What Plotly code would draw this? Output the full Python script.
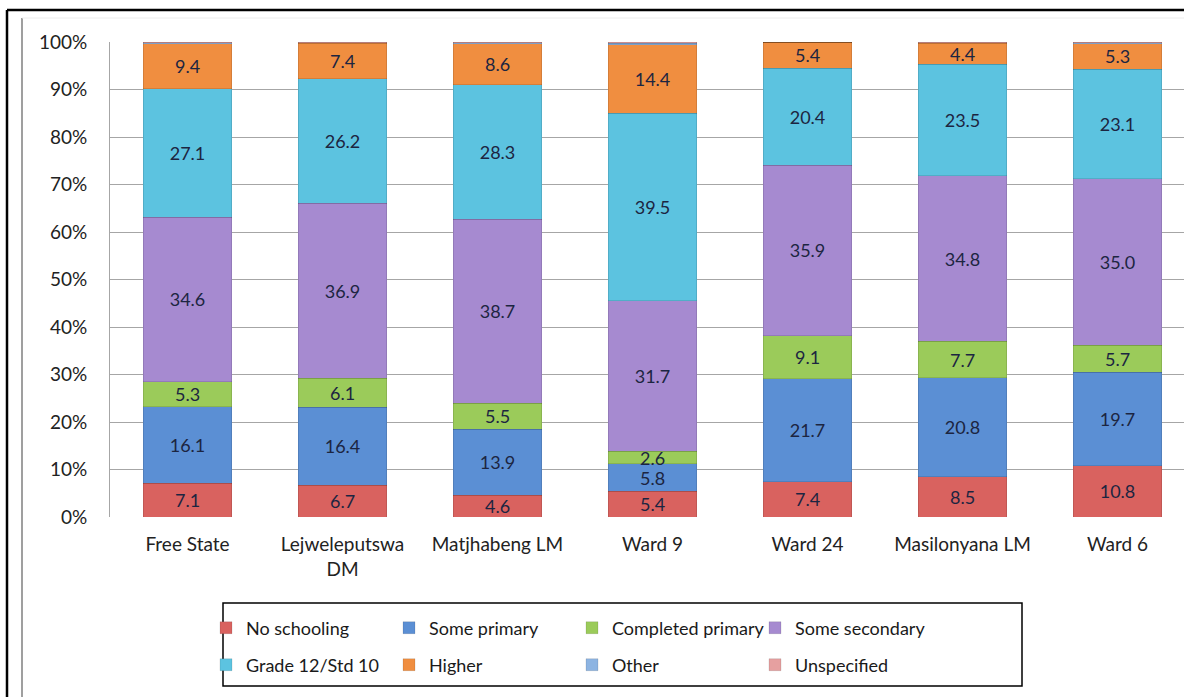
import plotly.graph_objects as go

# categories and shares (%)
areas = ["Free State", "Lejweleputswa<br>DM", "Matjhabeng LM", "Ward 9", "Ward 24", "Masilonyana LM", "Ward 6"]

no_schooling = [7.1, 6.7, 4.6, 5.4, 7.4, 8.5, 10.8]
some_primary = [16.1, 16.4, 13.9, 5.8, 21.7, 20.8, 19.7]
completed_primary = [5.3, 6.1, 5.5, 2.6, 9.1, 7.7, 5.7]
some_secondary = [34.6, 36.9, 38.7, 31.7, 35.9, 34.8, 35.0]
grade12 = [27.1, 26.2, 28.3, 39.5, 20.4, 23.5, 23.1]
higher = [9.4, 7.4, 8.6, 14.4, 5.4, 4.4, 5.3]
other = [0.2, 0.1, 0.2, 0.3, 0.0, 0.1, 0.2]
unspecified = [0.2, 0.2, 0.2, 0.3, 0.1, 0.2, 0.2]

series = [
    ("No schooling", no_schooling, "#d9625f", True, "legend"),
    ("Some primary", some_primary, "#5b8fd4", True, "legend"),
    ("Completed primary", completed_primary, "#9bcb5a", True, "legend"),
    ("Some secondary", some_secondary, "#a68ad0", True, "legend"),
    ("Grade 12/Std 10", grade12, "#5cc3e0", True, "legend2"),
    ("Higher", higher, "#f08e40", True, "legend2"),
    ("Other", other, "#8db4e2", False, "legend2"),
    ("Unspecified", unspecified, "#e6a0a0", False, "legend2"),
]

FONT = "Lato"
W, H = 1184, 697
L, T, B = 110, 42, 517  # plot area in pixels


def px(x):
    return (x - L) / (W - L)


def py(y):
    return (B - y) / (B - T)


fig = go.Figure()
for name, vals, color, labelled, leg in series:
    fig.add_trace(go.Bar(
        x=list(range(len(areas))),
        y=vals,
        name=name,
        marker=dict(color=color, line=dict(color="rgba(0,0,0,0.18)", width=0.6)),
        text=[f"{v:.1f}" for v in vals] if labelled else None,
        textposition="inside",
        insidetextanchor="middle",
        textangle=0,
        constraintext="none",
        textfont=dict(family=FONT, size=18, color="#1c2541"),
        legend=leg,
    ))

shapes = [
    # outer frame
    dict(type="line", xref="paper", yref="paper", x0=px(7), x1=px(W), y0=py(10), y1=py(10),
         line=dict(color="black", width=2.5)),
    dict(type="line", xref="paper", yref="paper", x0=px(7), x1=px(7), y0=py(10), y1=py(H),
         line=dict(color="black", width=2.5)),
    dict(type="line", xref="paper", yref="paper", x0=px(22), x1=px(22), y0=py(18), y1=py(H),
         line=dict(color="#7f7f7f", width=1.5)),
    dict(type="line", xref="paper", yref="paper", x0=px(22), x1=px(W), y0=py(18), y1=py(18),
         line=dict(color="#ececec", width=1)),
    # legend box
    dict(type="rect", xref="paper", yref="paper", x0=px(223), x1=px(1022), y0=py(603), y1=py(686),
         line=dict(color="black", width=1.5)),
]

legend_common = dict(
    orientation="h", xanchor="left", yanchor="middle",
    font=dict(family=FONT, size=18, color="#1a1a1a"),
    entrywidth=138, itemwidth=30, traceorder="normal",
    bgcolor="rgba(0,0,0,0)",
)

fig.update_layout(
    width=W, height=H,
    margin=dict(l=L, r=0, t=T, b=H - B),
    barmode="stack", bargap=0.43,
    plot_bgcolor="white", paper_bgcolor="white",
    font=dict(family=FONT, size=19, color="#222"),
    shapes=shapes,
    showlegend=True,
    legend=dict(x=px(206), y=py(628), **legend_common),
    legend2=dict(x=px(206), y=py(665), **legend_common),
    xaxis=dict(
        tickmode="array", tickvals=list(range(len(areas))), ticktext=areas,
        range=[-0.5, 6.429], showgrid=False, ticks="", zeroline=False,
        tickfont=dict(family=FONT, size=19, color="#222"),
        ticklabelstandoff=14,
    ),
    yaxis=dict(
        range=[0, 100], dtick=10, ticksuffix="%", showgrid=True,
        gridcolor="#a6a6a6", gridwidth=1, zeroline=False,
        showline=True, linecolor="#a6a6a6", linewidth=1,
        tickfont=dict(family=FONT, size=19, color="#222"),
        ticks="", ticklabelstandoff=18,
    ),
)

fig.write_html("out.html", config={"displayModeBar": False},
               post_script="document.body.style.margin='0px';")
